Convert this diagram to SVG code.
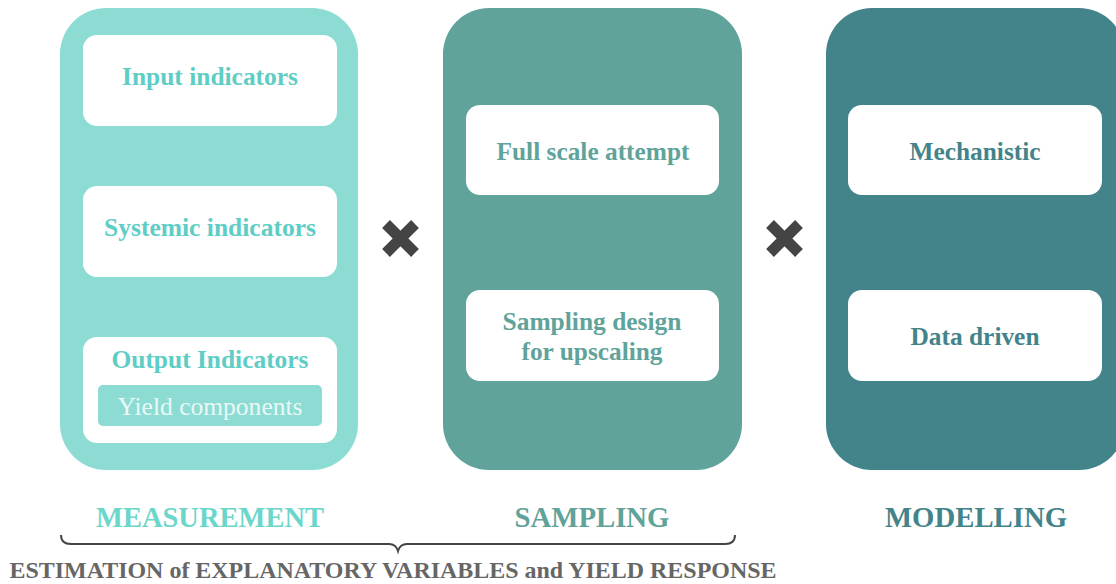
<svg xmlns="http://www.w3.org/2000/svg" width="1116" height="584" viewBox="0 0 1116 584">
<style>
.t{font-family:"Liberation Serif",serif;font-weight:bold;text-anchor:middle}
.box{fill:#fff}
.x{stroke:#444;stroke-width:11;stroke-linecap:butt}
</style>
<rect width="1116" height="584" fill="#fff"/>
<g id="measurement">
<rect x="60" y="8" width="298" height="462" rx="46" fill="#8CDCD3"/>
<rect class="box" x="83" y="35" width="254" height="91" rx="14"/>
<text class="t" x="210" y="85" font-size="25" fill="#5ECDC5" textLength="176" lengthAdjust="spacingAndGlyphs">Input indicators</text>
<rect class="box" x="83" y="186" width="254" height="91" rx="14"/>
<text class="t" x="210" y="236" font-size="25" fill="#5ECDC5" textLength="212" lengthAdjust="spacingAndGlyphs">Systemic indicators</text>
<rect class="box" x="83" y="337" width="254" height="106" rx="14"/>
<text class="t" x="210" y="368" font-size="25" fill="#5ECDC5" textLength="197" lengthAdjust="spacingAndGlyphs">Output Indicators</text>
<rect x="98" y="385" width="224" height="41" rx="5" fill="#8CDCD3"/>
<text x="210" y="415" font-size="25" fill="#EAF8F6" font-family="Liberation Serif, serif" text-anchor="middle" textLength="185" lengthAdjust="spacingAndGlyphs">Yield components</text>
</g>
<g id="sampling">
<rect x="443" y="8" width="299" height="462" rx="46" fill="#5FA39A"/>
<rect class="box" x="466" y="105" width="253" height="90" rx="14"/>
<text class="t" x="593" y="160" font-size="25" fill="#5FA39A" textLength="193" lengthAdjust="spacingAndGlyphs">Full scale attempt</text>
<rect class="box" x="466" y="290" width="253" height="91" rx="14"/>
<text class="t" x="592" y="330" font-size="25" fill="#5FA39A" textLength="179" lengthAdjust="spacingAndGlyphs">Sampling design</text>
<text class="t" x="592" y="360" font-size="25" fill="#5FA39A" textLength="141" lengthAdjust="spacingAndGlyphs">for upscaling</text>
</g>
<g id="modelling">
<rect x="826" y="8" width="299" height="462" rx="46" fill="#43838A"/>
<rect class="box" x="848" y="105" width="254" height="90" rx="14"/>
<text class="t" x="975" y="160" font-size="25" fill="#43838A" textLength="131" lengthAdjust="spacingAndGlyphs">Mechanistic</text>
<rect class="box" x="848" y="290" width="254" height="91" rx="14"/>
<text class="t" x="975" y="345" font-size="25" fill="#43838A" textLength="129" lengthAdjust="spacingAndGlyphs">Data driven</text>
</g>
<g id="connectors">
<path class="x" d="M386 224 L415 253 M415 224 L386 253"/>
<path class="x" d="M770 224 L799 253 M799 224 L770 253"/>
<path d="M61 535 Q61 544 71 544 L389 544 Q396 544 398 551 Q400 544 407 544 L725 544 Q735 544 735 535" fill="none" stroke="#444" stroke-width="2"/>
</g>
<g id="labels">
<text class="t" x="210" y="527" font-size="29" fill="#6DD6CB" textLength="228" lengthAdjust="spacingAndGlyphs">MEASUREMENT</text>
<text class="t" x="592" y="527" font-size="29" fill="#5FA39A" textLength="155" lengthAdjust="spacingAndGlyphs">SAMPLING</text>
<text class="t" x="976" y="527" font-size="29" fill="#43838A" textLength="182" lengthAdjust="spacingAndGlyphs">MODELLING</text>
<text class="t" x="393" y="578" font-size="23.5" fill="#666" textLength="767" lengthAdjust="spacingAndGlyphs">ESTIMATION of EXPLANATORY VARIABLES and YIELD RESPONSE</text>
</g>
</svg>
